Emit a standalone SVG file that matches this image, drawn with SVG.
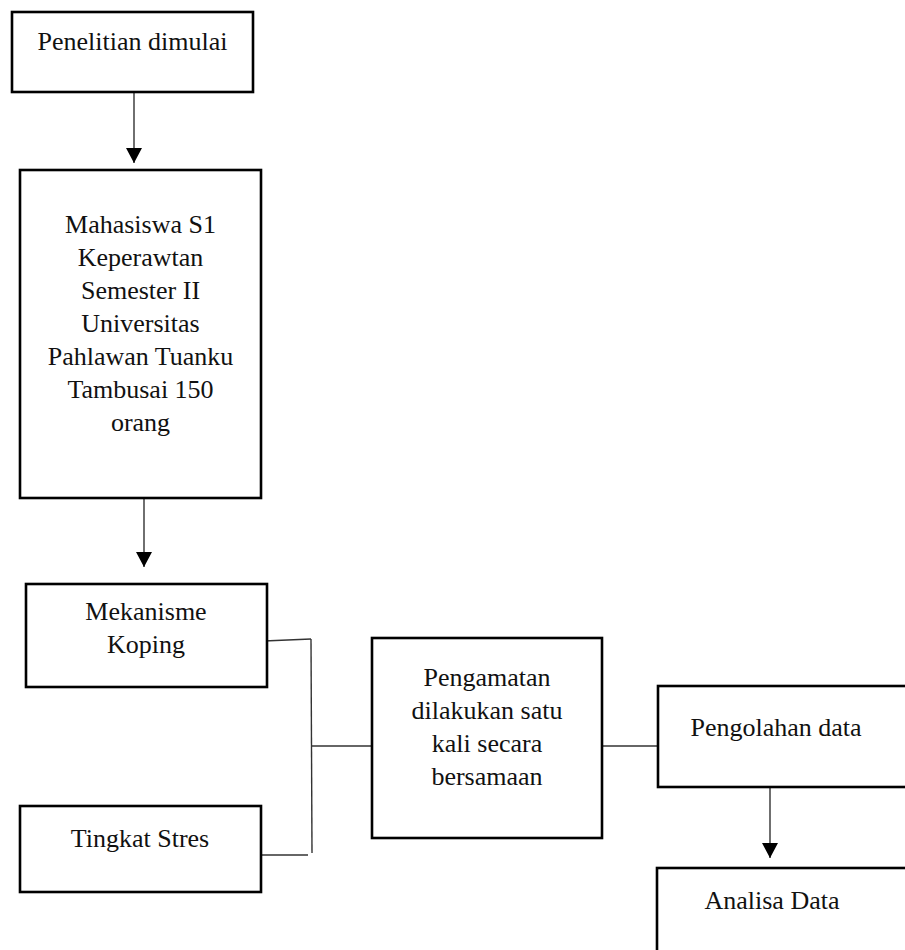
<svg xmlns="http://www.w3.org/2000/svg" width="905" height="950" viewBox="0 0 905 950">
<style>
.box{fill:#fff;stroke:#000;stroke-width:2.6}
.t{font-family:"Liberation Serif","Times New Roman",serif;font-size:26px;fill:#111;text-anchor:middle}
.c{fill:none;stroke:#333;stroke-width:1.4}
</style>
<defs>
<marker id="ah" markerUnits="userSpaceOnUse" markerWidth="16" markerHeight="16" viewBox="0 0 16 16" refX="15" refY="8" orient="auto">
<path d="M0,0 L15,8 L0,16 z" fill="#000"/>
</marker>
</defs>
<rect width="905" height="950" fill="#fff"/>
<g id="connectors">
<line class="c" x1="134" y1="92" x2="134" y2="163" marker-end="url(#ah)"/>
<line class="c" x1="144" y1="498" x2="144" y2="567" marker-end="url(#ah)"/>
<line class="c" x1="770" y1="787" x2="770" y2="858" marker-end="url(#ah)"/>
<polyline class="c" points="264,641 311,639"/>
<line class="c" x1="311" y1="639" x2="312" y2="853"/>
<line class="c" x1="262" y1="855" x2="308" y2="855"/>
<line class="c" x1="312" y1="746" x2="372" y2="746"/>
<line class="c" x1="602" y1="746" x2="658" y2="746"/>
</g>
<g id="n1">
<rect class="box" x="12" y="12" width="241" height="80"/>
<text class="t" x="132.5" y="50">Penelitian dimulai</text>
</g>
<g id="n2">
<rect class="box" x="20" y="170" width="241" height="328"/>
<text class="t" x="140.5" y="233">Mahasiswa S1</text>
<text class="t" x="140.5" y="266">Keperawtan</text>
<text class="t" x="140.5" y="299">Semester II</text>
<text class="t" x="140.5" y="332">Universitas</text>
<text class="t" x="140.5" y="365">Pahlawan Tuanku</text>
<text class="t" x="140.5" y="398">Tambusai 150</text>
<text class="t" x="140.5" y="431">orang</text>
</g>
<g id="n3">
<rect class="box" x="26" y="584" width="241" height="103"/>
<text class="t" x="146" y="620">Mekanisme</text>
<text class="t" x="146" y="653">Koping</text>
</g>
<g id="n4">
<rect class="box" x="20" y="806" width="241" height="86"/>
<text class="t" x="140" y="847">Tingkat Stres</text>
</g>
<g id="n5">
<rect class="box" x="372" y="638" width="230" height="200"/>
<text class="t" x="487" y="686">Pengamatan</text>
<text class="t" x="487" y="719">dilakukan satu</text>
<text class="t" x="487" y="752">kali secara</text>
<text class="t" x="487" y="785">bersamaan</text>
</g>
<g id="n6">
<rect class="box" x="658" y="686" width="260" height="101"/>
<text class="t" x="776" y="736">Pengolahan data</text>
</g>
<g id="n7">
<rect class="box" x="657" y="868" width="260" height="100"/>
<text class="t" x="772" y="909">Analisa Data</text>
</g>
</svg>
